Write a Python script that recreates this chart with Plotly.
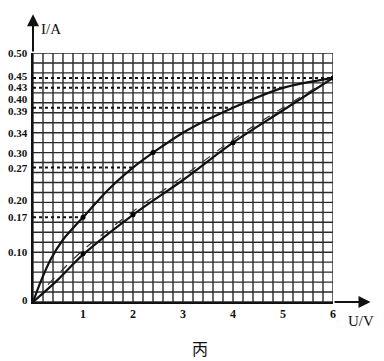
import plotly.graph_objects as go

# Data
u_upper = [0, 0.15, 0.35, 0.6, 1, 1.5, 2, 3, 4, 5, 6]
i_upper = [0, 0.04, 0.085, 0.125, 0.17, 0.225, 0.27, 0.34, 0.39, 0.43, 0.45]
u_lower = [0, 0.5, 1, 2, 3, 4, 5, 6]
i_lower = [0, 0.045, 0.095, 0.175, 0.245, 0.32, 0.385, 0.45]
u_dash = [0.3, 1, 2, 3, 4, 5, 5.9]
i_dash = [0.035, 0.104, 0.182, 0.252, 0.326, 0.39, 0.445]
u_marks = [1, 2.4, 6, 1, 2, 4]
i_marks = [0.17, 0.30, 0.45, 0.097, 0.175, 0.32]
# dotted guide lines: (I value, U end)
guide_i = [0.45, 0.43, 0.39, 0.27, 0.17]
guide_u = [6, 5, 4, 2, 1]
ytick_vals = [0, 0.10, 0.17, 0.20, 0.27, 0.30, 0.34, 0.39, 0.40, 0.43, 0.45, 0.50]
ytick_text = ["0", "0.10", "0.17", "0.20", "0.27", "0.30", "0.34", "0.39", "0.40", "0.43", "0.45", "0.50"]
ytick_shift = [2, 0, 0, 2, 0, 0, 0, -3, 4, 1, 2, 0]
xtick_vals = [1, 2, 3, 4, 5, 6]
xtick_text = ["1", "2", "3", "4", "5", "6"]

fig = go.Figure()

# grid
shapes = []
gx = [round(k * 0.2, 2) for k in range(31)]
gy = [round(k * 0.02, 2) for k in range(26)]
for x in gx:
    shapes.append(dict(type="line", xref="x", yref="y", x0=x, x1=x, y0=0, y1=0.5,
                       line=dict(color="#2a2a2a", width=1.4), layer="below"))
for y in gy:
    shapes.append(dict(type="line", xref="x", yref="y", x0=0, x1=6, y0=y, y1=y,
                       line=dict(color="#2a2a2a", width=1.4), layer="below"))

for gi, gu in zip(guide_i, guide_u):
    fig.add_trace(go.Scatter(x=[0, gu], y=[gi, gi], mode="lines",
                             line=dict(color="#111", width=2, dash="dot"),
                             hoverinfo="skip", showlegend=False))

fig.add_trace(go.Scatter(x=u_upper, y=i_upper, mode="lines",
                         line=dict(color="#111", width=2.2, shape="spline", smoothing=0.8),
                         showlegend=False))
fig.add_trace(go.Scatter(x=u_lower, y=i_lower, mode="lines",
                         line=dict(color="#111", width=2.2, shape="spline"),
                         showlegend=False))
fig.add_trace(go.Scatter(x=u_dash, y=i_dash, mode="lines",
                         line=dict(color="#333", width=1.2, dash="dash", shape="spline"),
                         showlegend=False))
fig.add_trace(go.Scatter(x=u_marks, y=i_marks, mode="markers",
                         marker=dict(color="#000", size=5, symbol="circle"),
                         showlegend=False))

font_ticks = dict(family="Liberation Serif", size=12, color="#111", weight="bold")

annotations = [
    dict(x=0, y=0.578, ax=0, ay=0.5, xref="x", yref="y", axref="x", ayref="y",
         showarrow=True, arrowhead=2, arrowsize=1.2, arrowwidth=2, arrowcolor="#111", text=""),
    dict(x=6.75, y=0, ax=6, ay=0, xref="x", yref="y", axref="x", ayref="y",
         showarrow=True, arrowhead=2, arrowsize=1.2, arrowwidth=2, arrowcolor="#111", text=""),
    dict(x=0.06, y=1.096, xref="paper", yref="paper", text="I/A", showarrow=False,
         xanchor="center", yanchor="middle",
         font=dict(family="Liberation Serif", size=15, color="#111")),
    dict(x=1.093, y=-0.076, xref="paper", yref="paper", text="U/V", showarrow=False,
         xanchor="center", yanchor="middle",
         font=dict(family="Liberation Serif", size=15, color="#111")),
    dict(x=0.557, y=-0.185, xref="paper", yref="paper", text="丙", showarrow=False,
         xanchor="center", yanchor="middle",
         font=dict(family="Noto Sans CJK SC", size=16, color="#111")),
]
for v, t, s in zip(ytick_vals, ytick_text, ytick_shift):
    annotations.append(dict(x=0, y=v, xref="paper", yref="y", text=t, showarrow=False,
                            xanchor="right", yanchor="middle", xshift=-3, yshift=s,
                            font=dict(family="Liberation Serif", size=11, color="#111",
                                      weight="bold")))

fig.update_layout(
    width=384, height=361,
    margin=dict(l=25, r=59, t=45, b=67),
    paper_bgcolor="white", plot_bgcolor="white",
    shapes=shapes,
    xaxis=dict(range=[0, 6], tickmode="array", tickvals=xtick_vals, ticktext=xtick_text,
               showgrid=False, zeroline=False, showline=True, linecolor="#111", linewidth=2,
               ticks="", tickfont=font_ticks, automargin=False),
    yaxis=dict(range=[0, 0.5], tickvals=ytick_vals, showticklabels=False,
               showgrid=False, zeroline=False, showline=True, linecolor="#111", linewidth=2,
               ticks="", automargin=False),
    annotations=annotations,
)

fig.write_html("out.html")
